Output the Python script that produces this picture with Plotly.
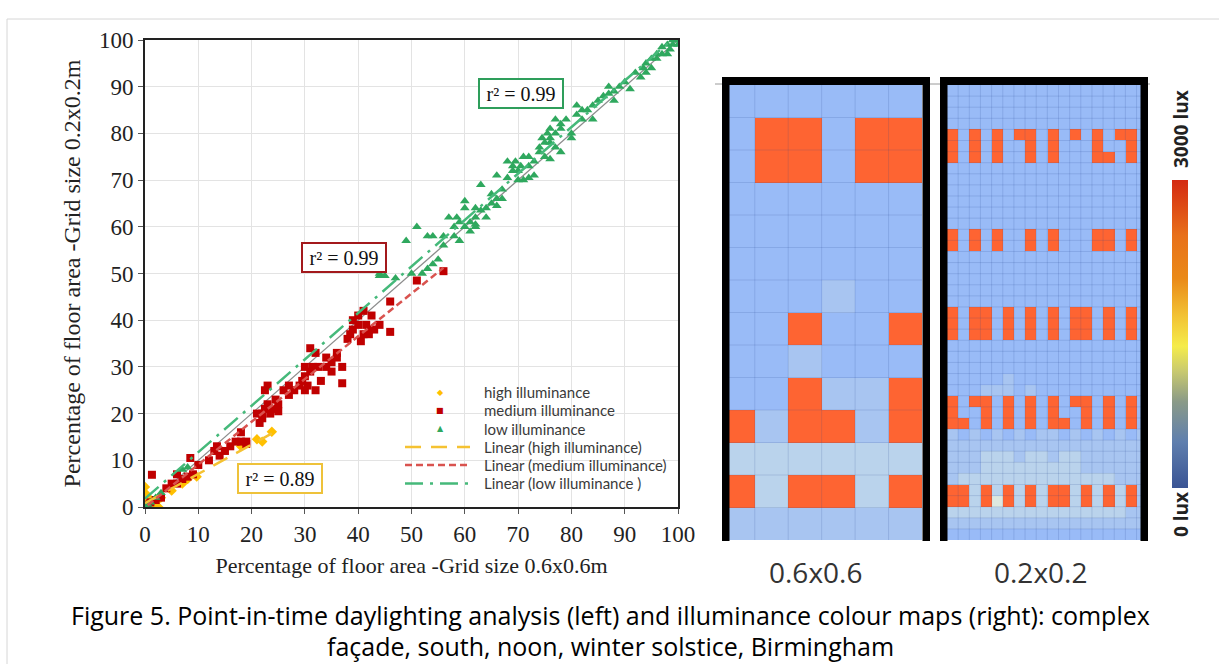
import numpy as np
import plotly.graph_objects as go

W, H = 1219, 664

# ---------------------------------------------------------------------------
# Scatter data: percentage of floor area, 0.6x0.6 m grid (x) vs 0.2x0.2 m grid (y)
# ---------------------------------------------------------------------------
high_x = [0, 0, 0, 0, 0, 0.3, 0.5, 1.0, 1.5, 2.0, 2.5, 2.0, 1.0, 3.0, 5.0, 7.0, 8.0, 9.7, 18.0, 21.0, 22.0, 23.8]
high_y = [0, 1, 2, 3, 4.3, 2.5, 1.0, 0.5, 0.3, 0.5, 0.0, 1.0, 1.5, 2.0, 3.5, 5.0, 6.0, 6.5, 13.0, 14.5, 14.0, 16.1]

med_x = [0.5, 1.0, 1.3, 2.0, 3.0, 4.0, 5.0, 6.0, 6.0, 7.0, 8.0, 8.5, 9.0, 10.0,
         12.0, 13.0, 13.5, 14.0, 15.0, 16.0, 17.0, 18.0, 18.0, 19.0, 19.0,
         21.0, 21.5, 22.0, 22.0, 22.5, 22.5, 23.0, 23.0, 23.5, 24.0, 24.5, 25.0, 25.0, 26.0, 27.0, 27.0, 28.0,
         29.0, 29.5, 30.0, 30.0, 30.0, 30.5, 31.0, 31.0, 31.5, 32.0, 32.0, 32.5, 33.0, 34.0, 34.0, 35.0, 35.0,
         36.0, 36.0, 37.0, 37.0, 38.0, 38.5, 39.0, 39.0, 40.0, 40.0, 40.5, 41.0, 41.0, 41.5, 42.0, 42.0,
         42.5, 43.0, 44.0, 46.0, 46.0, 51.0, 56.0]
med_y = [0.5, 1.0, 6.9, 1.5, 2.0, 4.0, 5.0, 7.0, 5.0, 6.0, 6.5, 10.5, 7.0, 9.0,
         10.0, 12.0, 13.0, 11.0, 12.0, 13.0, 14.0, 14.0, 16.0, 14.0, 13.5,
         20.0, 18.0, 19.0, 20.0, 21.0, 25.0, 22.0, 26.0, 20.0, 21.0, 23.0, 20.5, 22.0, 25.0, 24.0, 26.0, 25.0,
         26.0, 27.0, 25.0, 28.0, 30.0, 26.0, 29.0, 34.0, 30.0, 25.0, 33.0, 30.0, 27.0, 30.0, 32.0, 29.0, 31.0,
         32.0, 33.0, 30.0, 26.5, 36.0, 37.0, 40.0, 38.0, 39.0, 41.0, 35.5, 42.0, 37.0, 39.0, 37.0, 38.0,
         41.0, 38.0, 39.0, 37.5, 44.0, 48.5, 50.5]

low_x = [0, 0, 0.5, 1.0, 2.0, 3.0, 7.0, 8.0,
         44, 44, 45, 47, 49, 50, 51, 52, 53, 53, 54, 54, 55, 56, 56, 57, 58, 58, 58.5, 59, 59, 60, 60, 60,
         61, 61, 62, 62, 62, 63, 63, 64, 64, 65, 65, 66, 66, 67, 67, 68, 68, 69, 69, 69.5, 70, 70, 70.5,
         71, 71, 72, 72, 73, 73, 74, 74, 74.5, 75, 75, 75.5, 76, 76, 76, 77, 77, 77, 78, 78, 78, 79, 80,
         81, 81, 82, 82, 83, 84, 85, 86, 87, 87, 88, 89, 90, 91, 92, 93, 93.5, 94, 94, 95, 95, 96, 96,
         97, 97, 98, 98, 98.5, 99, 99, 100, 100,
         62, 66, 72, 76, 80, 84, 88]
low_y = [0, 0.3, 0.5, 1.0, 2.0, 3.0, 8.0, 8.5,
         49.5, 50, 49.5, 49, 57, 50, 60, 50, 51, 58, 58, 52, 53, 58, 56, 62, 58, 60, 62, 57, 61, 60, 64, 65.5,
         59, 61, 62, 60, 64, 69, 63.5, 64, 62, 65, 67, 71, 66, 66, 68, 74, 70.5, 73, 72, 74, 70, 72, 73,
         75, 70, 73, 75, 74, 71, 76, 77, 79, 75, 78, 80, 79, 81, 78, 80, 77, 83, 81, 82, 76, 83, 80,
         84, 86, 85, 83, 85, 86, 87, 88, 88.5, 90, 89, 90, 91, 89.5, 93, 92, 94, 95, 93, 94, 96, 97, 96,
         97, 98.5, 99, 97, 98, 100, 99, 100, 99,
         60.5, 64.5, 70.5, 74.5, 79, 83, 87]

ONE_TO_ONE = [0, 100]
R2_LABELS = {"high": "r² = 0.89", "medium": "r² = 0.99", "low": "r² = 0.99"}
SERIES_NAMES = ["high illuminance", "medium illuminance", "low illuminance"]
TREND_NAMES = ["Linear (high illuminance)", "Linear (medium illuminance)", "Linear (low illuminance )"]

# ---------------------------------------------------------------------------
# Illuminance maps (rows from the back of the room to the window, lux levels)
# '.' base, '-' lighter, 'p' pale, 'w' near white, 'o' above 3000 lux
# ---------------------------------------------------------------------------
LEVEL_LUX = {".": 300, "-": 600, "p": 900, "w": 1080, "o": 3000}

map_06 = [
    "......",
    ".oo.oo",
    ".oo.oo",
    "......",
    "......",
    "......",
    "...-..",
    "..o..o",
    "..-...",
    "..o--o",
    "o-oo-o",
    "pppppp",
    "opoopo",
    "------",
]

map_02 = [
    "..................",
    "..................",
    "..................",
    "..................",
    "o.o.o.oo.o.o.o.oo.",
    "o.o.o..o.o...o..o.",
    "o.o.o..o.o...oo.o.",
    "..................",
    "..................",
    "..................",
    "..................",
    "..................",
    "..................",
    "o.o.o..o.o...oo.o.",
    "o.o.o..o.o...oo.o.",
    "..................",
    "..................",
    "..................",
    "..................",
    "..................",
    "o.oo.o.o.o.oo.o.o.",
    "o.oo.o.o.o.oo.o.o.",
    "o.oo.o.o.o.oo.o.o.",
    "..................",
    "..................",
    "..................",
    ".....-............",
    "...---.-..........",
    "o.oo.o.o.o.oo.o.o.",
    "o..o.o.o.o..o.o.o.",
    "oo.o.o.o.oo.o.o.o.",
    "-.-.-.-.--.-.-.-.-",
    "------------------",
    "---ppp-pp-pp------",
    "---ppppppppp------",
    "-pppppppppppppp---",
    "oopopopopoopopopo-",
    "oopowopopoopopopo-",
    "pppppppppppppppp--",
    "------------------",
    "..................",
]


def to_lux(rows):
    return [[LEVEL_LUX[c] for c in r] for r in rows]


z06 = to_lux(map_06)
z02 = to_lux(map_02)


def px(x):
    return x / W


def py(y):
    return 1 - y / H


SERIF = "Liberation Serif"
SANS = "Lato"
CAPTION = "Open Sans"

YELLOW, RED, GREEN = "#ffc000", "#c00000", "#2fa85e"
TREND_YELLOW, TREND_RED, TREND_GREEN = "#f5c232", "#d9534f", "#45b97a"

fig = go.Figure()

# 1:1 reference line
fig.add_trace(go.Scatter(x=ONE_TO_ONE, y=ONE_TO_ONE, mode="lines",
                         line=dict(color="#8c8c8c", width=1.3), showlegend=False, hoverinfo="skip"))

fig.add_trace(go.Scatter(x=high_x, y=high_y, mode="markers", name=SERIES_NAMES[0], showlegend=False,
                         marker=dict(symbol="diamond", size=8, color=YELLOW)))
fig.add_trace(go.Scatter(x=med_x, y=med_y, mode="markers", name=SERIES_NAMES[1], showlegend=False,
                         marker=dict(symbol="square", size=8, color=RED)))
fig.add_trace(go.Scatter(x=low_x, y=low_y, mode="markers", name=SERIES_NAMES[2], showlegend=False,
                         marker=dict(symbol="triangle-up", size=8.5, color=GREEN)))


def trend(xs, ys):
    slope, icpt = np.polyfit(xs, ys, 1)
    xx = np.array([min(xs), max(xs)])
    return xx, slope * xx + icpt


TREND_STYLE = [(TREND_YELLOW, "16px,10px"), (TREND_RED, "7px,4px"), (TREND_GREEN, "18px,7px,3px,7px")]

for (xs, ys), nm, (col, dash) in zip([(high_x, high_y), (med_x, med_y), (low_x, low_y)],
                                     TREND_NAMES, TREND_STYLE):
    tx, ty = trend(xs, ys)
    fig.add_trace(go.Scatter(x=tx, y=ty, mode="lines", name=nm, showlegend=False,
                             line=dict(color=col, width=2.5, dash=dash)))

# Illuminance colour maps
cell_scale = [[0.0, "#8fb2f6"], [0.1, "#99bbf7"], [0.2, "#a8c5f1"], [0.3, "#bad3ec"],
              [0.36, "#dde8e0"], [0.37, "#fe6432"], [1.0, "#fe6432"]]
fig.add_trace(go.Heatmap(z=z06, xaxis="x2", yaxis="y2", colorscale=cell_scale, zmin=0, zmax=3000,
                         showscale=False, hoverinfo="skip"))
fig.add_trace(go.Heatmap(z=z02, xaxis="x3", yaxis="y3", colorscale=cell_scale, zmin=0, zmax=3000,
                         showscale=False, hoverinfo="skip"))

# Colour key 0 - 3000 lux
key_scale = [[0.0, "#3a5494"], [0.15, "#5f7fae"], [0.28, "#8a9a88"], [0.38, "#c9ca6e"],
             [0.46, "#f5ec4a"], [0.56, "#f2c234"], [0.68, "#ea8a18"], [0.82, "#e8701a"],
             [1.0, "#d42a12"]]
fig.add_trace(go.Scatter(x=[-5, -5], y=[-5, -5], xaxis="x2", yaxis="y2", mode="markers",
                         showlegend=False, hoverinfo="skip",
                         marker=dict(color=[0, 3000], cmin=0, cmax=3000, colorscale=key_scale,
                                     showscale=True,
                                     colorbar=dict(x=px(1172), xanchor="left", xpad=0, ypad=0,
                                                   thickness=16, len=(488 - 180) / H,
                                                   y=py((180 + 488) / 2), yanchor="middle",
                                                   outlinewidth=0, showticklabels=False, ticks=""))))

shapes = []
# cell grid lines over the maps
for ax, rows, x0, x1 in [("2", map_06, -0.27, 5.5), ("3", map_02, -0.5, 16.9)]:
    nr, nc = len(rows), len(rows[0])
    for c in range(nc + 1):
        xv = c - 0.5
        if x0 < xv < x1:
            shapes.append(dict(type="line", xref="x" + ax, yref="y" + ax, x0=xv, x1=xv,
                               y0=-0.5, y1=nr - 0.5, line=dict(color="rgba(40,70,140,0.16)", width=1)))
    for r in range(1, nr):
        shapes.append(dict(type="line", xref="x" + ax, yref="y" + ax, x0=x0, x1=x1,
                           y0=r - 0.5, y1=r - 0.5, line=dict(color="rgba(40,70,140,0.16)", width=1)))

# thin line across the top of both maps
shapes.append(dict(type="line", xref="paper", yref="paper", x0=px(715), x1=px(1150),
                   y0=py(84), y1=py(84), line=dict(color="#9a9a9a", width=1)))

# black frames around each map
for left, right in [(722, 930), (940, 1148)]:
    for (a, b, c, d) in [(left, 77, left + 7.5, 541), (right - 7.5, 77, right, 541), (left, 77, right, 85)]:
        shapes.append(dict(type="rect", xref="paper", yref="paper", x0=px(a), x1=px(c),
                           y0=py(d), y1=py(b), fillcolor="black", line=dict(width=0)))

# outer border of the figure panel
shapes.append(dict(type="rect", xref="paper", yref="paper", x0=px(7), x1=px(1230),
                   y0=py(680), y1=py(19), line=dict(color="#d6d6d6", width=1)))

annotations = []


def label(x, y, text, font, xanchor="center", angle=0):
    return dict(x=px(x), y=py(y), xref="paper", yref="paper", text=text, showarrow=False,
                xanchor=xanchor, yanchor="middle", textangle=angle, font=font)


# legend inside the scatter panel
LEG_TEXT_X, LEG_SYM_X, LEG_LINE = 482, 440, (405, 470)
leg_rows = [392, 410, 428.5, 447, 465, 483.5]
for i, (glyph, col) in enumerate(zip(["◆", "■", "▲"], [YELLOW, RED, GREEN])):
    annotations.append(label(LEG_SYM_X, leg_rows[i], glyph,
                             dict(family="DejaVu Sans", size=8, color=col)))
for i, (col, dash) in enumerate(TREND_STYLE):
    yy = py(leg_rows[3 + i])
    shapes.append(dict(type="line", xref="paper", yref="paper", x0=px(LEG_LINE[0]), x1=px(LEG_LINE[1]),
                       y0=yy, y1=yy, line=dict(color=col, width=2.5, dash=dash)))
for i, name in enumerate(SERIES_NAMES + TREND_NAMES):
    annotations.append(label(LEG_TEXT_X, leg_rows[i], name,
                             dict(family=SANS, size=15, color="#3a3a3a"), xanchor="left"))

for key, xc, yc, col in [("low", 70.5, 88.6, "#2e9e5b"), ("medium", 37.3, 53.5, "#a3191c"),
                         ("high", 25.3, 6.2, "#eec23a")]:
    annotations.append(dict(x=xc, y=yc, xref="x", yref="y", text=R2_LABELS[key], showarrow=False,
                            xanchor="center", yanchor="middle",
                            font=dict(family=SERIF, size=20, color="#111"), bgcolor="white",
                            bordercolor=col, borderwidth=2, borderpad=3, width=76, height=21))

annotations += [
    label(816, 572, "0.6x0.6", dict(family=CAPTION, size=28, color="#333")),
    label(1040, 572, "0.2x0.2", dict(family=CAPTION, size=28, color="#333")),
    label(1181, 129, "<b>3000 lux</b>", dict(family=CAPTION, size=19, color="#222"), angle=-90),
    label(1181, 515, "<b>0 lux</b>", dict(family=CAPTION, size=19, color="#222"), angle=-90),
    label(610, 615, "Figure 5. Point-in-time daylighting analysis (left) and illuminance colour maps (right): complex",
          dict(family=CAPTION, size=25, color="#000")),
    label(610, 646, "façade, south, noon, winter solstice, Birmingham",
          dict(family=CAPTION, size=25, color="#000")),
]

axis_font = dict(family=SERIF, size=23, color="#222")
fig.update_layout(
    width=W, height=H, margin=dict(l=0, r=0, t=0, b=0, autoexpand=False),
    paper_bgcolor="white", plot_bgcolor="white",
    showlegend=False,
    xaxis=dict(domain=[px(145), px(678)], range=[0, 100], dtick=10, showgrid=True, automargin=False,
               gridcolor="#e3e3e3", zeroline=False, showline=True, linecolor="#222", linewidth=2,
               mirror=True, ticks="outside", ticklen=5, tickcolor="#555", tickfont=axis_font,
               title=dict(text="Percentage of floor area -Grid size 0.6x0.6m",
                          font=dict(family=SERIF, size=22, color="#222"), standoff=12)),
    yaxis=dict(domain=[py(507), py(40)], range=[0, 100], dtick=10, showgrid=True, automargin=False,
               gridcolor="#e3e3e3", zeroline=False, showline=True, linecolor="#222", linewidth=2,
               mirror=True, ticks="outside", ticklen=5, tickcolor="#555", tickfont=axis_font,
               title=dict(text="Percentage of floor area -Grid size 0.2x0.2m",
                          font=dict(family=SERIF, size=24, color="#222"), standoff=12)),
    xaxis2=dict(domain=[px(729), px(922)], range=[-0.27, 5.5], visible=False, fixedrange=True),
    yaxis2=dict(domain=[py(540), py(85)], range=[13.5, -0.5], visible=False, fixedrange=True),
    xaxis3=dict(domain=[px(947), px(1141)], range=[-0.5, 16.9], visible=False, fixedrange=True),
    yaxis3=dict(domain=[py(540), py(85)], range=[40.5, -0.5], visible=False, fixedrange=True),
    shapes=shapes,
    annotations=annotations,
)

fig.write_html("out.html")
